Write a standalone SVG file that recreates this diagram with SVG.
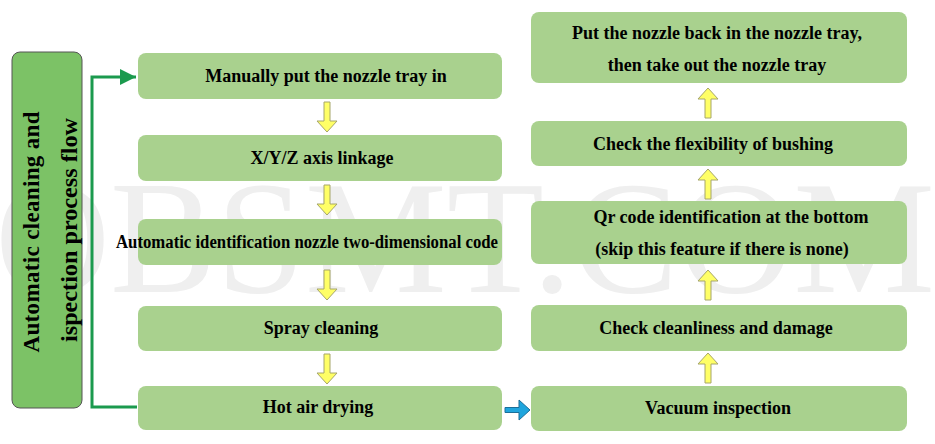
<svg xmlns="http://www.w3.org/2000/svg" width="935" height="444" viewBox="0 0 935 444">
<style>
.box{fill:#a9d18e;}
.t{font-family:"Liberation Serif","Times New Roman",serif;font-weight:bold;font-size:18px;fill:#000;text-anchor:middle;dominant-baseline:central;}
.tt{font-family:"Liberation Serif","Times New Roman",serif;font-weight:bold;font-size:23px;fill:#000;text-anchor:middle;dominant-baseline:central;}
.ya{fill:#ffff66;stroke:#a6a66a;stroke-width:1;}
.wm{font-family:"Liberation Serif","Times New Roman",serif;font-size:160px;fill:#efefef;text-anchor:middle;}
</style>
<defs>
<marker id="gh" viewBox="0 0 10 10" refX="10" refY="5" markerWidth="5.5" markerHeight="5.5" orient="auto" markerUnits="strokeWidth">
<path d="M0,0 L10,5 L0,10 z" fill="#1b9a4e"/>
</marker>
<path id="down" d="M-3,0 H3 V19 H10 L0,30 L-10,19 H-3 Z"/>
</defs>
<rect width="935" height="444" fill="#fff"/>
<text class="wm" x="465" y="292" textLength="940" lengthAdjust="spacingAndGlyphs">OBSMT.COM</text>

<g id="title">
<rect x="12" y="52" width="70" height="356" rx="8" fill="#7cc266" stroke="#555" stroke-width="1"/>
<text class="tt" transform="translate(31,232) rotate(-90)" textLength="241" lengthAdjust="spacing">Automatic cleaning and</text>
<text class="tt" transform="translate(69,230) rotate(-90)" textLength="224" lengthAdjust="spacingAndGlyphs">ispection process flow</text>
</g>

<g id="connectors">
<path d="M137,407 H92 V77 H136" fill="none" stroke="#1b9a4e" stroke-width="3" marker-end="url(#gh)"/>
<use href="#down" class="ya" x="327" y="102"/>
<use href="#down" class="ya" x="327" y="185"/>
<use href="#down" class="ya" x="327" y="270"/>
<use href="#down" class="ya" x="327" y="354"/>
<use href="#down" class="ya" transform="translate(708,118) rotate(180)"/>
<use href="#down" class="ya" transform="translate(708,199) rotate(180)"/>
<use href="#down" class="ya" transform="translate(708,300) rotate(180)"/>
<use href="#down" class="ya" transform="translate(708,383) rotate(180)"/>
<path d="M505,407.5 H519 V400 L530,410 L519,420 V412.5 H505 Z" fill="#1fa5dd" stroke="#1a6f99" stroke-width="1"/>
</g>

<g id="n1"><rect class="box" x="138" y="53" width="364" height="46" rx="8"/><text class="t" x="326" y="76">Manually put the nozzle tray in</text></g>
<g id="n2"><rect class="box" x="138" y="135" width="364" height="46" rx="8"/><text class="t" x="322" y="158">X/Y/Z axis linkage</text></g>
<g id="n3"><rect class="box" x="138" y="219" width="364" height="46" rx="8"/><text class="t" x="307" y="242" textLength="382" lengthAdjust="spacingAndGlyphs">Automatic identification nozzle two-dimensional code</text></g>
<g id="n4"><rect class="box" x="138" y="306" width="364" height="45" rx="8"/><text class="t" x="321" y="328">Spray cleaning</text></g>
<g id="n5"><rect class="box" x="138" y="386" width="364" height="44" rx="8"/><text class="t" x="318" y="407">Hot air drying</text></g>

<g id="m5"><rect class="box" x="531" y="386" width="376" height="45" rx="8"/><text class="t" x="718" y="408">Vacuum inspection</text></g>
<g id="m4"><rect class="box" x="531" y="305" width="376" height="46" rx="8"/><text class="t" x="716" y="328">Check cleanliness and damage</text></g>
<g id="m3"><rect class="box" x="531" y="201" width="376" height="63" rx="8"/><text class="t" x="731" y="217">Qr code identification at the bottom</text><text class="t" x="722" y="249">(skip this feature if there is none)</text></g>
<g id="m2"><rect class="box" x="531" y="121" width="376" height="45" rx="8"/><text class="t" x="713" y="144">Check the flexibility of bushing</text></g>
<g id="m1"><rect class="box" x="531" y="12" width="376" height="71" rx="8"/><text class="t" x="717" y="33">Put the nozzle back in the nozzle tray,</text><text class="t" x="717" y="65">then take out the nozzle tray</text></g>
</svg>
